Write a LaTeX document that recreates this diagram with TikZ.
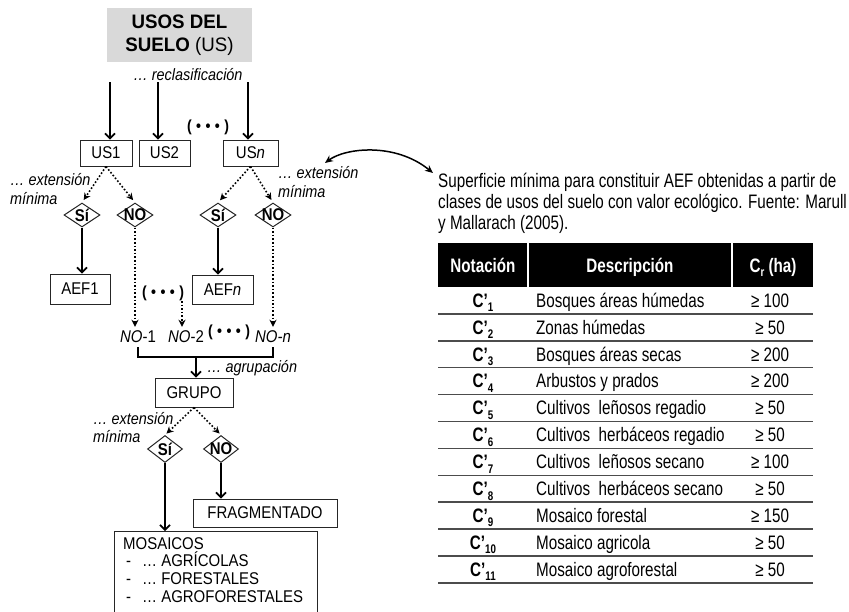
\documentclass[tikz,border=0pt]{standalone}
\usepackage{fontspec}
\setmainfont{Liberation Sans}[FakeStretch=0.88]
\newfontfamily\nar{Liberation Sans}[FakeStretch=0.78]
\newfontfamily\ttl{Liberation Sans}[FakeStretch=0.96]
\usetikzlibrary{shapes.geometric,arrows.meta}
\tikzset{
  box/.style={draw=black!85, line width=1pt, inner sep=0pt, font=\fontsize{17}{19}\selectfont},
  diam/.style={draw=black!85, line width=1pt, diamond, inner sep=0pt, minimum width=36pt, minimum height=24pt},
  dlab/.style={font=\bfseries\fontsize{17}{17}\selectfont, inner sep=0pt},
  solidarr/.style={line width=1.6pt, -{Straight Barb[length=5pt,width=10pt]}},
  dotarr/.style={line width=1.6pt, dotted, -{Stealth[length=7pt,width=7pt]}},
  lbl/.style={font=\itshape\fontsize{16.4}{18.5}\selectfont, inner sep=0pt},
  txt/.style={font=\fontsize{17}{19}\selectfont, inner sep=4pt},
  dotsn/.style={font=\bfseries\fontsize{16}{16}\selectfont, inner sep=0pt},
  cell/.style={font=\nar\fontsize{19.5}{21}\selectfont, inner sep=0pt},
  cellb/.style={font=\nar\bfseries\fontsize{19.5}{21}\selectfont, inner sep=0pt},
  hdr/.style={font=\nar\bfseries\fontsize{19.5}{21}\selectfont, text=white, inner sep=0pt},
  sepline/.style={draw=black!70, line width=1.5pt}
}
\newcommand{\csub}[1]{C’\raisebox{-4.5pt}{\fontsize{12.5}{12.5}\selectfont #1}}
\newcommand{\tdots}{(\;•\;•\;•\;)}
\begin{document}
\begin{tikzpicture}[x=1pt,y=-1pt]
\useasboundingbox[fill=white] (0,0) rectangle (849,611);

% ---------- title ----------
\node[fill=black!15, minimum width=145pt, minimum height=54pt, inner sep=0pt, align=center,
      font=\ttl\fontsize{19.5}{23}\selectfont] (title) at (179.5,35) {\textbf{USOS DEL}\\\textbf{SUELO} (US)};
\node[lbl] (recl) at (188,75) {… reclasificación};
\coordinate (a1) at (110,82);
\coordinate (a2) at (158,82);
\coordinate (a3) at (248,82);

% ---------- US boxes ----------
\node[box, minimum width=52pt, minimum height=26pt] (us1) at (106,153) {US1};
\node[box, minimum width=51pt, minimum height=26pt] (us2) at (164.5,153) {US2};
\node[box, minimum width=55pt, minimum height=26pt] (usn) at (250.5,153) {US\textit{n}};
\node[dotsn] (dots1) at (208,127) {\tdots};
\draw[solidarr] (a1) -- (a1 |- us1.north);
\draw[solidarr] (a2) -- (a2 |- us2.north);
\draw[solidarr] (a3) -- (a3 |- usn.north);

% ---------- first diamonds ----------
\node[diam, label={[dlab]center:Sí}] (s1) at (82,215) {};
\node[diam, label={[dlab]center:NO}] (n1) at (135,215) {};
\node[diam, label={[dlab]center:Sí}] (s2) at (218,215) {};
\node[diam, label={[dlab]center:NO}] (n2) at (273,215) {};
\draw[dotarr, shorten >=3pt] (us1.south) -- (s1.north);
\draw[dotarr, shorten >=3pt] (us1.south) -- (n1.north);
\draw[dotarr, shorten >=3pt] (usn.south) -- (s2.north);
\draw[dotarr, shorten >=3pt] (usn.south) -- (n2.north);
\node[lbl, align=left, anchor=west] (ext1) at (10,189) {… extensión\\mínima};
\node[lbl, align=left, anchor=west] (ext2) at (278,182) {… extensión\\mínima};

% ---------- AEF ----------
\node[box, minimum width=60pt, minimum height=30pt] (aef1) at (80,289) {AEF1};
\node[box, minimum width=61pt, minimum height=29pt] (aefn) at (222.5,289.5) {AEF\textit{n}};
\draw[solidarr] (s1.south) -- (s1.south |- aef1.north);
\draw[solidarr] (s2.south) -- (s2.south |- aefn.north);

% ---------- NO branches ----------
\node[dotsn] (dots2) at (163,293) {\tdots};
\node[txt] (no1) at (138,337) {\textit{NO}-1};
\node[txt] (no2) at (186,337) {\textit{NO}-2};
\node[dotsn] (dots3) at (229,332) {\tdots};
\node[txt] (non) at (273,337) {\textit{NO-n}};
\coordinate (d2s) at (182,301);
\draw[dotarr] (n1.south) -- (n1.south |- no1.north);
\draw[dotarr] (d2s) -- (d2s |- no2.north);
\draw[dotarr] (n2.south) -- (n2.south |- non.north);
\draw[line width=1.6pt] (no1.south) -- ++(0,10) -| (non.south);
\coordinate (brk) at (196,357);

% ---------- grupo ----------
\node[box, minimum width=78pt, minimum height=29pt] (grupo) at (194,392.5) {GRUPO};
\draw[solidarr] (brk) -- (brk |- grupo.north);
\node[lbl, anchor=west] (agr) at (207,368) {… agrupación};

\node[diam, minimum width=35pt, minimum height=27pt, label={[dlab]center:Sí}] (sg) at (165,449) {};
\node[diam, minimum width=35pt, minimum height=27pt, label={[dlab]center:NO}] (ng) at (221,449) {};
\draw[dotarr, shorten >=2pt] (grupo.south) -- (sg.north);
\draw[dotarr, shorten >=2pt] (grupo.south) -- (ng.north);
\node[lbl, align=left, anchor=west] (ext3) at (93,427.5) {… extensión\\mínima};

% ---------- results ----------
\node[box, minimum width=144pt, minimum height=28pt] (frag) at (265,513) {FRAGMENTADO};
\node[box, minimum width=203pt, minimum height=100pt, anchor=north west] (mos) at (114,531) {};
\node[anchor=north west, align=left, inner sep=0pt, font=\fontsize{17}{17.7}\selectfont] (mostext) at (123,537)
  {MOSAICOS\\\makebox[19pt][l]{\,-}… AGRÍCOLAS\\\makebox[19pt][l]{\,-}… FORESTALES\\\makebox[19pt][l]{\,-}… AGROFORESTALES};
\draw[solidarr] (sg.south) -- (sg.south |- mos.north);
\draw[solidarr] (ng.south) -- (ng.south |- frag.north);

% ---------- curved link ----------
\coordinate (cl) at (325,163);
\coordinate (cr) at (433,173);
\draw[line width=1.5pt, {Stealth[length=8pt,width=7pt]}-{Stealth[length=8pt,width=7pt]}]
  (cl) .. controls (345,148) and (395,142) .. (cr);

% ---------- caption ----------
\node[cell, anchor=base west] (cap1) at (438,187.5) {Superficie mínima para constituir AEF obtenidas a partir de};
\node[cell, anchor=base west] (cap2) at (438,208.5) {clases de usos del suelo con valor ecológico. Fuente: Marull};
\node[cell, anchor=base west] (cap3) at (438,229) {y Mallarach (2005).};

% ---------- table ----------
\fill[black] (438,243) rectangle (813,287);
\draw[white, line width=1.5pt] (528,243) -- (528,287);
\draw[white, line width=1.5pt] (732,243) -- (732,287);
\node[hdr, anchor=base] (h1) at (483,272) {Notación};
\node[hdr, anchor=base] (h2) at (630,272) {Descripción};
\node[hdr, anchor=base] (h3) at (773,272) {C\raisebox{-4pt}{\fontsize{12.5}{12.5}\selectfont r} (ha)};

\foreach \n/\d/\v [count=\i] in {1/Bosques áreas húmedas/100, 2/Zonas húmedas/50, 3/Bosques áreas secas/200,
   4/Arbustos y prados/200, 5/Cultivos~ leñosos regadio/50, 6/Cultivos~ herbáceos regadio/50,
   7/Cultivos~ leñosos secano/100, 8/Cultivos~ herbáceos secano/50, 9/Mosaico forestal/150,
   10/Mosaico agricola/50, 11/Mosaico agroforestal/50}{
  \pgfmathsetmacro{\yb}{287+26.9*(\i-0.5)+6.8}
  \pgfmathsetmacro{\yl}{287+26.9*\i}
  \node[cellb, anchor=base] (t\i a) at (483,\yb) {\csub{\n}};
  \node[cell, anchor=base west] (t\i b) at (536,\yb) {\d};
  \node[cell, anchor=base] (t\i c) at (770,\yb) {≥ \v};
  \draw[sepline] (438,\yl) -- (813,\yl);
}
\end{tikzpicture}
\end{document}
